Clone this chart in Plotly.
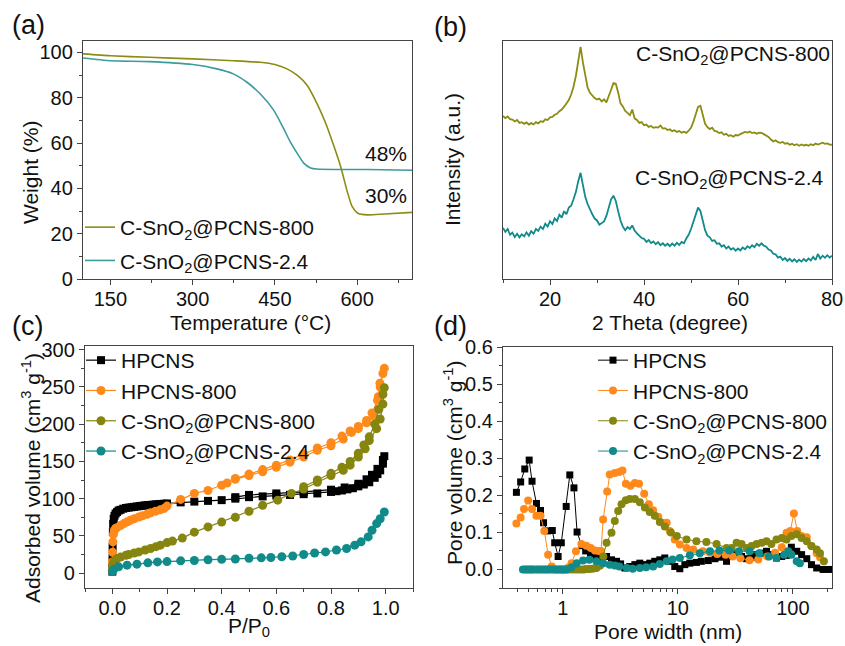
import plotly.graph_objects as go

W, H = 845, 646
FONT = "Liberation Sans, Arial, sans-serif"
FS = 20     # tick labels
FT = 21     # titles, legends, labels

# ---------------- (a) TGA ----------------
tga_800_T = [100, 150, 221, 300, 374, 423, 450, 472, 491, 509, 527, 543, 558, 570, 582, 591, 601, 619, 650, 700]
tga_800_W = [99.3, 98.5, 97.8, 97.1, 96.3, 95.6, 94.6, 92.7, 89.8, 85.4, 77.3, 68.5, 58.3, 49.5, 38.5, 31.9, 29.0, 28.3, 28.7, 29.4]
tga_24_T = [100, 150, 221, 300, 344, 374, 399, 423, 448, 466, 478, 491, 503, 515, 527, 558, 619, 700]
tga_24_W = [97.5, 96.3, 95.9, 94.6, 92.7, 90.5, 86.8, 81.7, 74.4, 66.3, 60.5, 55.3, 51.0, 49.0, 48.5, 48.3, 48.3, 48.0]

# ---------------- (b) XRD ----------------
xrd_theta = [10 + 0.5 * i for i in range(141)]
xrd_800 = [68.5, 67.6, 68.3, 67.2, 67.0, 66.2, 66.8, 65.6, 65.9, 65.2,
           65.8, 64.9, 65.5, 65.0, 65.9, 65.4, 66.3, 66.0, 67.1, 66.8,
           67.9, 68.1, 69.0, 69.4, 70.5, 71.2, 72.4, 73.8, 75.2, 77.5,
           80.8, 85.3, 91.5, 97.5, 91.0, 85.0, 80.5, 78.2, 77.0, 76.0,
           75.4, 75.8, 74.6, 75.5, 74.2, 76.5, 79.5, 82.3, 82.0, 78.4,
           73.8, 72.5, 70.6, 69.8, 68.8, 71.2, 67.5, 66.8, 65.6, 65.9,
           64.6, 64.9, 63.9, 64.3, 63.5, 63.8, 63.6, 64.5, 63.2, 63.4,
           62.6, 62.9, 62.1, 62.5, 61.8, 62.2, 61.5, 61.9, 61.4, 62.3,
           63.5, 66.0, 69.2, 72.3, 72.8, 69.0, 65.2, 63.8, 63.0, 63.6,
           62.2, 62.0, 61.3, 61.6, 60.6, 61.0, 60.1, 60.4, 59.8, 60.5,
           60.3, 60.9, 61.2, 61.8, 61.5, 62.0, 61.3, 61.6, 61.0, 61.5,
           61.4, 60.8, 60.4, 59.7, 58.6, 57.8, 58.3, 57.5, 57.2, 57.6,
           56.8, 57.1, 56.4, 56.8, 56.2, 56.6, 56.0, 56.5, 56.1, 56.4,
           56.0, 56.6, 56.2, 56.9, 56.5, 57.0, 57.3, 56.8, 57.0, 56.5,
           56.4]
xrd_24 = [21.5, 19.8, 21.0, 18.6, 19.5, 17.6, 19.0, 17.5, 18.8, 17.9,
          19.6, 18.2, 20.1, 19.0, 21.0, 20.2, 22.0, 21.0, 23.2, 22.0,
          24.3, 23.1, 25.5, 24.4, 27.0, 25.8, 28.5, 27.2, 30.0, 30.8,
          33.5, 36.5, 41.0, 44.6, 39.5, 34.5, 31.5, 29.0, 27.2, 25.4,
          24.6, 22.8, 23.6, 24.2, 26.5, 30.2, 33.5, 35.0, 32.8, 28.5,
          24.6, 22.0, 20.5, 21.8, 21.0, 22.5, 20.4, 19.2, 18.0, 17.2,
          16.9, 15.6, 16.4, 15.1, 15.8, 14.6, 15.5, 14.2, 15.0, 14.0,
          14.8, 13.8, 14.9, 14.0, 15.2, 14.3, 15.6, 15.0, 17.0, 18.6,
          21.0, 24.0, 27.5, 30.0, 28.6, 24.0, 20.5, 18.2, 17.5, 16.0,
          16.3, 14.8, 15.0, 13.6, 14.2, 12.8, 13.6, 12.4, 13.0, 11.9,
          12.8, 12.0, 13.2, 12.5, 13.8, 13.0, 14.2, 13.4, 14.8, 14.0,
          15.0, 14.0, 13.6, 12.4, 12.0, 10.6, 10.4, 9.0, 9.4, 8.0,
          8.8, 7.6, 8.5, 7.4, 8.3, 7.2, 8.1, 7.3, 8.4, 7.5,
          8.6, 7.8, 9.3, 8.0, 10.5, 8.6, 9.8, 8.9, 10.0, 9.0,
          9.8]

# ---------------- (c) N2 isotherms ----------------
iso_hp_P = [0.0001, 0.0003, 0.0006, 0.001, 0.002, 0.003, 0.005, 0.008, 0.012, 0.017, 0.023, 0.03, 0.04, 0.05,
            0.06, 0.07, 0.08, 0.09, 0.10, 0.11, 0.12, 0.13, 0.14, 0.15, 0.16, 0.17, 0.18, 0.19, 0.20, 0.25,
            0.30, 0.35, 0.40, 0.45, 0.50, 0.55, 0.60, 0.65, 0.70, 0.75, 0.80, 0.82, 0.84, 0.86, 0.88, 0.90,
            0.92, 0.94, 0.96, 0.97, 0.98, 0.99, 0.995,
            0.99, 0.97, 0.95, 0.93, 0.90, 0.85, 0.80, 0.70, 0.60, 0.50, 0.45]
iso_hp_V = [2, 8, 20, 35, 55, 66, 73, 77, 80, 82, 84, 85, 86.5, 87.5,
            88, 88.5, 89, 89.5, 90, 90.5, 91, 91.3, 91.6, 92, 92.3, 92.6, 92.9, 93.2, 93.5, 95,
            96, 97, 98, 100, 102, 103, 104, 105, 106, 107, 109, 110, 111, 112.5, 114, 116.5,
            119, 122, 128, 133, 138, 147, 157,
            152, 140, 132, 126, 120, 115, 112, 109, 107, 105, 102]
iso_hp8_P = [0.0002, 0.0005, 0.001, 0.002, 0.004, 0.007, 0.012, 0.017, 0.03, 0.042, 0.055, 0.066, 0.08, 0.097,
             0.11, 0.127, 0.14, 0.158, 0.175, 0.189, 0.20, 0.25, 0.30, 0.35, 0.40, 0.45, 0.50, 0.55, 0.60,
             0.65, 0.70, 0.75, 0.80, 0.845, 0.875, 0.90, 0.93, 0.955, 0.973, 0.979, 0.995,
             0.99, 0.98, 0.97, 0.95, 0.93, 0.90, 0.87, 0.84, 0.80, 0.75, 0.70, 0.65, 0.60, 0.55, 0.50, 0.45, 0.42]
iso_hp8_V = [5, 15, 28, 42, 52, 57, 60, 61, 64, 66.5, 69, 71, 73, 75.4,
             77, 79, 81, 83, 85, 86.6, 90, 99, 107, 111, 118, 126, 131, 136, 142,
             149, 156, 165, 171, 180, 189, 194, 202, 211, 237, 255, 275,
             268, 250, 232, 215, 205, 197, 191, 184, 175, 168, 160, 152, 145, 139, 133, 127, 121]
iso_c8_P = [0.0002, 0.001, 0.003, 0.006, 0.01, 0.017, 0.03, 0.05, 0.06, 0.08, 0.097, 0.12, 0.14, 0.16, 0.176,
            0.20, 0.22, 0.256, 0.30, 0.35, 0.40, 0.45, 0.50, 0.55, 0.605, 0.655, 0.70, 0.75, 0.80, 0.845,
            0.87, 0.90, 0.925, 0.94, 0.967, 0.98, 0.99, 0.995,
            0.99, 0.975, 0.96, 0.94, 0.92, 0.90, 0.87, 0.84, 0.80, 0.75, 0.70]
iso_c8_V = [3, 8, 12, 15, 17, 19.7, 21.5, 24, 25, 27, 28.5, 31, 33, 35.5, 37.5,
            41, 43, 47, 55, 62, 68.5, 75, 83, 91, 98, 107, 113, 122, 131, 138,
            145, 156, 167, 178, 194, 207, 227, 249,
            240, 220, 200, 183, 172, 161, 150, 142, 134, 125, 116]
iso_c24_P = [0.0003, 0.005, 0.023, 0.054, 0.09, 0.13, 0.165, 0.20, 0.25, 0.30, 0.35, 0.40, 0.45, 0.50, 0.545,
             0.58, 0.62, 0.66, 0.70, 0.74, 0.78, 0.82, 0.857, 0.887, 0.91, 0.936, 0.95, 0.967, 0.98, 0.995]
iso_c24_V = [2, 5, 8.4, 10.7, 12, 13.8, 15, 15.5, 16.5, 17, 18, 18.5, 19, 20, 20.5,
             21, 22, 23, 25, 27, 28.5, 31, 33, 37.5, 42, 48.6, 57.6, 66.5, 73, 82]

# ---------------- (d) Pore size distribution ----------------
psd_hp_w = [0.395, 0.43, 0.467, 0.51, 0.54, 0.59, 0.64, 0.68, 0.735, 0.81, 0.85, 0.91, 0.97, 1.07, 1.15, 1.25,
            1.33, 1.46, 1.58, 1.74, 1.96, 2.17, 2.4, 2.65, 2.93, 3.18, 3.46, 3.82, 4.23, 4.67, 5.17, 5.7,
            6.3, 6.97, 7.7, 8.5, 9.4, 10.4, 11.5, 12.7, 14.5, 16, 18.4, 21, 23, 26.5, 29.3, 32.4, 35.8,
            39.6, 43.8, 48.4, 53.5, 59, 65, 72, 80, 88, 97, 108, 119, 132, 145, 161, 183, 205]
psd_hp_v = [0.208, 0.236, 0.271, 0.295, 0.238, 0.178, 0.159, 0.126, 0.104, 0.105, 0.072, 0.035, 0.072, 0.17,
            0.255, 0.22, 0.101, 0.064, 0.05, 0.042, 0.035, 0.031, 0.035, 0.026, 0.022, 0.015, 0.004, 0.008,
            0.013, 0.017, 0.013, 0.017, 0.022, 0.026, 0.031, 0.022, 0.008, 0.002, 0.013, 0.017, 0.019,
            0.022, 0.024, 0.029, 0.033, 0.022, 0.035, 0.044, 0.035, 0.029, 0.033, 0.04, 0.044, 0.049,
            0.04, 0.031, 0.035, 0.038, 0.06, 0.049, 0.04, 0.029, 0.013, 0.004, 0.0, 0.0]
psd_hp8_w = [0.395, 0.43, 0.46, 0.50, 0.54, 0.59, 0.64, 0.69, 0.745, 0.80, 0.87, 0.95, 1.03, 1.12, 1.19, 1.3,
             1.45, 1.6, 1.75, 1.9, 2.05, 2.15, 2.24, 2.43, 2.56, 2.83, 3.09, 3.3, 3.53, 3.87, 4.23, 4.6,
             5.1, 5.6, 6.1, 6.75, 7.4, 8.0, 8.5, 9.4, 10.4, 11.9, 13.6, 16.5, 19, 22, 26, 30, 35, 42, 50,
             60, 70, 80, 88, 95, 102, 109, 119, 132, 145, 161, 172]
psd_hp8_v = [0.124, 0.14, 0.163, 0.186, 0.163, 0.145, 0.145, 0.104, 0.04, 0.008, 0.0, 0.0, 0.0, 0.005, 0.017,
             0.049, 0.069, 0.064, 0.058, 0.051, 0.05, 0.05, 0.135, 0.21, 0.256, 0.26, 0.263, 0.267, 0.231,
             0.226, 0.233, 0.231, 0.204, 0.176, 0.16, 0.142, 0.126, 0.126, 0.104, 0.081, 0.067, 0.058,
             0.054, 0.049, 0.045, 0.042, 0.04, 0.035, 0.03, 0.025, 0.027, 0.035, 0.045, 0.06, 0.099, 0.104,
             0.151, 0.104, 0.09, 0.087, 0.063, 0.044, 0.033]
psd_c8_w = [1.12, 1.2, 1.28, 1.36, 1.44, 1.52, 1.6, 1.7, 1.8, 1.9, 1.96, 2.1, 2.25, 2.4, 2.65, 2.83, 3.03,
            3.24, 3.53, 3.82, 4.23, 4.67, 5.17, 5.7, 6.3, 6.97, 7.7, 8.7, 9.8, 11.9, 14.5, 17.7, 21.7,
            26.5, 29.3, 32.4, 35.8, 39.6, 43.8, 48.4, 53.5, 59, 65, 72, 80, 88, 97, 108, 119, 132, 145,
            161, 172, 186]
psd_c8_v = [0.0, 0.0, 0.0, 0.0, 0.0, 0.0, 0.001, 0.001, 0.002, 0.003, 0.004, 0.01, 0.035, 0.072, 0.099,
            0.131, 0.158, 0.176, 0.187, 0.19, 0.19, 0.181, 0.167, 0.155, 0.145, 0.128, 0.116, 0.1, 0.09,
            0.081, 0.076, 0.074, 0.069, 0.058, 0.058, 0.072, 0.069, 0.058, 0.063, 0.069, 0.072, 0.076,
            0.069, 0.081, 0.085, 0.081, 0.09, 0.095, 0.085, 0.076, 0.063, 0.054, 0.044, 0.022]
psd_c24_w = [0.45, 0.47, 0.49, 0.51, 0.53, 0.55, 0.58, 0.61, 0.64, 0.67, 0.7, 0.73, 0.76, 0.8, 0.84, 0.88,
             0.92, 0.96, 1.0, 1.04, 1.08, 1.19, 1.32, 1.5, 1.7, 1.96, 2.24, 2.56, 2.83, 3.1, 3.6, 4.05,
             4.67, 5.3, 6.1, 6.97, 8.0, 9.0, 10.4, 12.7, 15.5, 19, 23, 28, 34, 42, 51, 62, 72, 84, 91,
             97, 108, 115]
psd_c24_v = [0.0, 0.0, 0.0, 0.0, 0.0, 0.0, 0.0, 0.0, 0.0, 0.0, 0.0, 0.0, 0.0, 0.0, 0.0, 0.0,
             0.0, 0.0, 0.0, 0.0, 0.0, 0.006, 0.017, 0.024, 0.026, 0.022, 0.017, 0.013, 0.011, 0.008,
             0.004, 0.002, 0.004, 0.006, 0.008, 0.015, 0.022, 0.027, 0.031, 0.038, 0.044, 0.049, 0.051,
             0.051, 0.049, 0.049, 0.044, 0.035, 0.031, 0.04, 0.049, 0.04, 0.022, 0.017]

NAME_HP = "HPCNS"
NAME_HP8 = "HPCNS-800"
NAME_C8 = "C-SnO<sub>2</sub>@PCNS-800"
NAME_C24 = "C-SnO<sub>2</sub>@PCNS-2.4"

OLIVE = "#8c8c14"
TEAL_A = "#3a9c9c"
TEAL = "#118a8a"
ORANGE = "#ff8a1c"
OLIVE_M = "#858510"
BLACK = "#000000"
TXT = "#111111"

def dom_x(x0, x1):
    return [x0 / W, x1 / W]

def dom_y(y0, y1):
    return [1 - y1 / H, 1 - y0 / H]

fig = go.Figure()

# (a)
fig.add_trace(go.Scatter(x=tga_800_T, y=tga_800_W, mode="lines", name=NAME_C8,
                         line=dict(color=OLIVE, width=1.6, shape="spline", smoothing=0.6),
                         xaxis="x", yaxis="y", legend="legend", legendgroup="a1"))
fig.add_trace(go.Scatter(x=tga_24_T, y=tga_24_W, mode="lines", name=NAME_C24,
                         line=dict(color=TEAL_A, width=1.6, shape="spline", smoothing=0.6),
                         xaxis="x", yaxis="y", legend="legend", legendgroup="a2"))
# (b)
fig.add_trace(go.Scatter(x=xrd_theta, y=xrd_800, mode="lines", name=NAME_C8, showlegend=False,
                         line=dict(color=OLIVE, width=1.8), xaxis="x2", yaxis="y2"))
fig.add_trace(go.Scatter(x=xrd_theta, y=xrd_24, mode="lines", name=NAME_C24, showlegend=False,
                         line=dict(color=TEAL, width=1.8), xaxis="x2", yaxis="y2"))
# (c)
for P, V, nm, col, sym, sz, g in [
    (iso_hp_P, iso_hp_V, NAME_HP, BLACK, "square", 8, "c1"),
    (iso_hp8_P, iso_hp8_V, NAME_HP8, ORANGE, "circle", 9, "c2"),
    (iso_c8_P, iso_c8_V, NAME_C8, OLIVE_M, "circle", 9, "c3"),
    (iso_c24_P, iso_c24_V, NAME_C24, TEAL, "circle", 9, "c4"),
]:
    fig.add_trace(go.Scatter(x=P, y=V, mode="lines+markers", name=nm,
                             line=dict(color=col, width=1.2),
                             marker=dict(color=col, symbol=sym, size=sz),
                             xaxis="x3", yaxis="y3", legend="legend2", legendgroup=g))
# (d)
for w, v, nm, col, sym, sz, g in [
    (psd_hp_w, psd_hp_v, NAME_HP, BLACK, "square", 7, "d1"),
    (psd_hp8_w, psd_hp8_v, NAME_HP8, ORANGE, "circle", 8, "d2"),
    (psd_c8_w, psd_c8_v, NAME_C8, OLIVE_M, "circle", 8, "d3"),
    (psd_c24_w, psd_c24_v, NAME_C24, TEAL, "circle", 8, "d4"),
]:
    fig.add_trace(go.Scatter(x=w, y=v, mode="lines+markers", name=nm,
                             line=dict(color=col, width=1.0),
                             marker=dict(color=col, symbol=sym, size=sz),
                             xaxis="x4", yaxis="y4", legend="legend3", legendgroup=g))

axis_common = dict(showline=True, linecolor="#444", linewidth=1.3, mirror=True,
                   ticklen=5, tickwidth=1.2, tickcolor="#444", showgrid=False, zeroline=False,
                   automargin=False, tickfont=dict(size=FS, color=TXT, family=FONT))

def minor(d):
    return dict(ticks="outside", ticklen=3, tickwidth=1, tickcolor="#444", dtick=d, showgrid=False)

leg_common = dict(xanchor="left", yanchor="top", bgcolor="rgba(0,0,0,0)",
                  font=dict(size=FT, family=FONT, color=TXT), traceorder="grouped")

fig.update_layout(
    width=W, height=H, margin=dict(l=0, r=0, t=0, b=0),
    paper_bgcolor="white", plot_bgcolor="white",
    font=dict(family=FONT, size=FS, color=TXT),
    xaxis=dict(domain=dom_x(83, 412), anchor="y", range=[100, 700], dtick=150, tick0=0, ticks="outside",
               ticklabelstandoff=-3, minor=minor(75), **axis_common),
    yaxis=dict(domain=dom_y(41, 279), anchor="x", range=[0, 105], dtick=20, ticks="outside",
               minor=minor(10), **axis_common),
    xaxis2=dict(domain=dom_x(503, 832), anchor="y2", range=[10, 80], dtick=20, tick0=0, ticks="outside",
                ticklabelstandoff=-3, minor=minor(10), **axis_common),
    yaxis2=dict(domain=dom_y(41, 279), anchor="x2", range=[0, 100], showticklabels=False, ticks="",
                **axis_common),
    xaxis3=dict(domain=dom_x(85, 413), anchor="y3", range=[-0.1, 1.1], dtick=0.2, tick0=0, tickformat=".1f",
                ticks="outside", ticklabelstandoff=-3, minor=minor(0.1), **axis_common),
    yaxis3=dict(domain=dom_y(346, 588), anchor="x3", range=[-20, 305], dtick=50, tick0=0, ticks="outside",
                minor=minor(25), **axis_common),
    xaxis4=dict(domain=dom_x(503, 832), anchor="y4", type="log", range=[-0.52, 2.34], dtick=1, ticks="outside",
                ticklabelstandoff=-3,
                minor=dict(ticks="outside", ticklen=3, tickwidth=1, tickcolor="#444", dtick="D1", showgrid=False),
                **axis_common),
    yaxis4=dict(domain=dom_y(347, 588), anchor="x4", range=[-0.05, 0.6], dtick=0.1, tick0=0, tickformat=".1f",
                ticks="outside", minor=minor(0.05), **axis_common),
    legend=dict(x=80 / W, y=1 - 207 / H, tracegroupgap=3, **leg_common),
    legend2=dict(x=81 / W, y=1 - 340 / H, tracegroupgap=0, **leg_common),
    legend3=dict(x=593 / W, y=1 - 340 / H, tracegroupgap=0, **leg_common),
)

def label(text, x, y, size=FT, angle=0, xanchor="center", yanchor="middle"):
    fig.add_annotation(text=text, x=x / W, y=1 - y / H, xref="paper", yref="paper", showarrow=False,
                       textangle=angle, xanchor=xanchor, yanchor=yanchor,
                       font=dict(size=size, family=FONT, color=TXT))

# panel letters
label("(a)", 10, 8, size=27, xanchor="left", yanchor="top")
label("(b)", 432, 10, size=27, xanchor="left", yanchor="top")
label("(c)", 10, 309, size=27, xanchor="left", yanchor="top")
label("(d)", 432, 309, size=27, xanchor="left", yanchor="top")

# axis titles
label("Temperature (°C)", 250, 322)
label("Weight (%)", 31, 172, angle=-90)
label("2 Theta (degree)", 670, 322)
label("Intensity (a.u.)", 453, 160, angle=-90)
label("P/P<sub>0</sub>", 249, 627)
label("Adsorbed volume (cm<sup>3</sup> g<sup>-1</sup>)", 31, 478, angle=-90)
label("Pore width (nm)", 668, 631)
label("Pore volume (cm<sup>3</sup> g<sup>-1</sup>)", 453, 463, angle=-90)

# in-plot texts
fig.add_annotation(text="48%", x=700, y=55.5, xref="x", yref="y", xanchor="right", showarrow=False,
                   xshift=-3, font=dict(size=FT, family=FONT, color=TXT))
fig.add_annotation(text="30%", x=700, y=37, xref="x", yref="y", xanchor="right", showarrow=False,
                   xshift=-3, font=dict(size=FT, family=FONT, color=TXT))
fig.add_annotation(text=NAME_C8, x=80, y=94, xref="x2", yref="y2", xanchor="right", showarrow=False,
                   xshift=0, font=dict(size=FT, family=FONT, color=TXT))
fig.add_annotation(text=NAME_C24, x=80, y=42, xref="x2", yref="y2", xanchor="right", showarrow=False,
                   xshift=-6, font=dict(size=FT, family=FONT, color=TXT))

fig.write_html("out.html")
